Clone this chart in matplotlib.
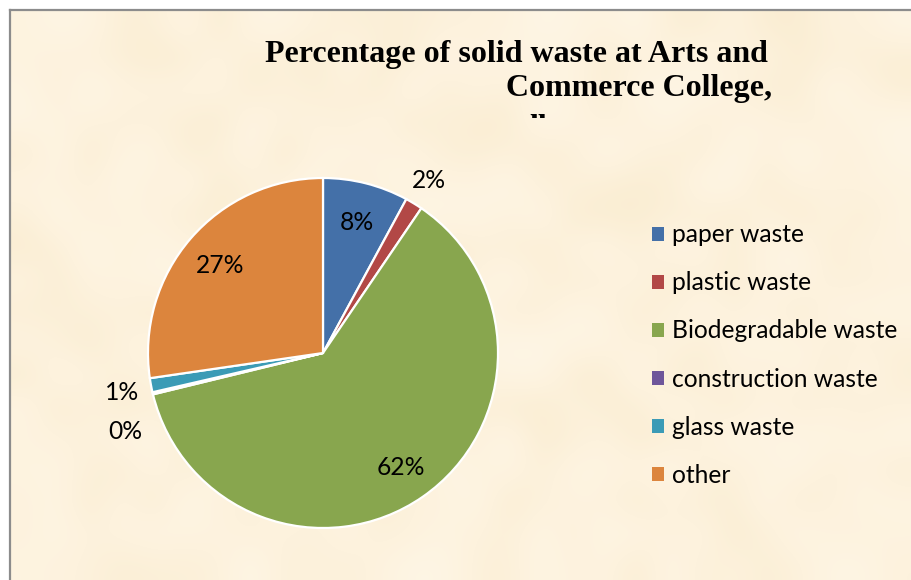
import numpy as np
import matplotlib
matplotlib.use("Agg")
import matplotlib.pyplot as plt
from matplotlib.colors import LinearSegmentedColormap
from matplotlib.patches import Patch, Rectangle

# ── Data ───────────────────────────────────────────────────────────────────
categories = ["paper waste", "plastic waste", "Biodegradable waste",
              "construction waste", "glass waste", "other"]
percent = [7.9, 1.6, 61.7, 0.2, 1.3, 27.3]
colors = ["#4470A8", "#B24846", "#88A64E", "#6E569A", "#3B9BB6", "#DC853D"]

title_lines = ["Percentage of solid waste at Arts and", "Commerce College,"]

W, H = 912, 580
fig = plt.figure(figsize=(W / 100, H / 100), dpi=100)
fig.patch.set_facecolor("white")


def px(x, y):
    """pixel (from top-left) -> figure fraction"""
    return x / W, 1 - y / H


# ── Parchment background inside the frame ──────────────────────────────────
bg = fig.add_axes([10 / W, 0, (W - 10) / W, (H - 10) / H])
rng = np.random.default_rng(7)
tex = rng.random((18, 28))
parch = LinearSegmentedColormap.from_list("parch", ["#FAEDD2", "#FDF2DD", "#FEF6E6"])
bg.imshow(tex, cmap=parch, interpolation="bicubic", aspect="auto",
          extent=[0, 1, 0, 1], vmin=0, vmax=1)
bg.set_xticks([])
bg.set_yticks([])
for side in ["right", "bottom"]:
    bg.spines[side].set_visible(False)
for side in ["left", "top"]:
    bg.spines[side].set_color("#8C8C8C")
    bg.spines[side].set_linewidth(1.6)

# ── Pie ────────────────────────────────────────────────────────────────────
R = 175          # pie radius in pixels
half = 1.25 * R  # half size of the axes in pixels
cx, cy = 323, 353
x0, y0 = px(cx - half, cy + half)
ax = fig.add_axes([x0, y0, 2 * half / W, 2 * half / H])
ax.set_xlim(-1.25, 1.25)
ax.set_ylim(-1.25, 1.25)
ax.set_aspect("equal")
ax.axis("off")

wedges, _ = ax.pie(percent, colors=colors, startangle=90, counterclock=False,
                   radius=1, wedgeprops=dict(edgecolor="white", linewidth=1.6))

label_font = dict(family=["Lato", "DejaVu Sans"], fontsize=17.7, color="black",
                  ha="center", va="center_baseline")
glass_xy = None
for i, (w, p) in enumerate(zip(wedges, percent)):
    mid = np.deg2rad((w.theta1 + w.theta2) / 2)
    r = 0.78 if p > 5 else 1.17
    x, y = r * np.cos(mid), r * np.sin(mid)
    if categories[i] == "glass waste":
        glass_xy = (x, y)
    if categories[i] == "construction waste":
        continue
    ax.text(x, y, f"{p:.0f}%", **label_font)
# construction label sits just under the glass one (best-fit style)
ci = categories.index("construction waste")
ax.text(glass_xy[0] + 0.02, glass_xy[1] - 0.22, f"{percent[ci]:.0f}%", **label_font)

# ── Legend ─────────────────────────────────────────────────────────────────
handles = [Patch(facecolor=c, edgecolor="none") for c in colors]
lx, ly = px(652, 355)
fig.legend(handles, categories, loc="center left", bbox_to_anchor=(lx, ly),
           frameon=False, prop=dict(family="Lato", size=17.7),
           handlelength=0.5, handleheight=0.5, handletextpad=0.33,
           labelspacing=1.02, borderaxespad=0, borderpad=0)

# ── Title (right aligned lines, third line clipped) ────────────────────────
tfont = dict(family="Liberation Serif", fontweight="bold", fontsize=23,
             color="black", ha="right", va="baseline")
fig.text(*px(768, 62), title_lines[0], **tfont)
fig.text(*px(772, 96), title_lines[1], **tfont)
third = fig.text(*px(547, 136), "ll", **tfont)
clip = Rectangle(px(0, 118), 1, 1, transform=fig.transFigure)
third.set_clip_path(clip)

fig.savefig("out.png", dpi=100)
